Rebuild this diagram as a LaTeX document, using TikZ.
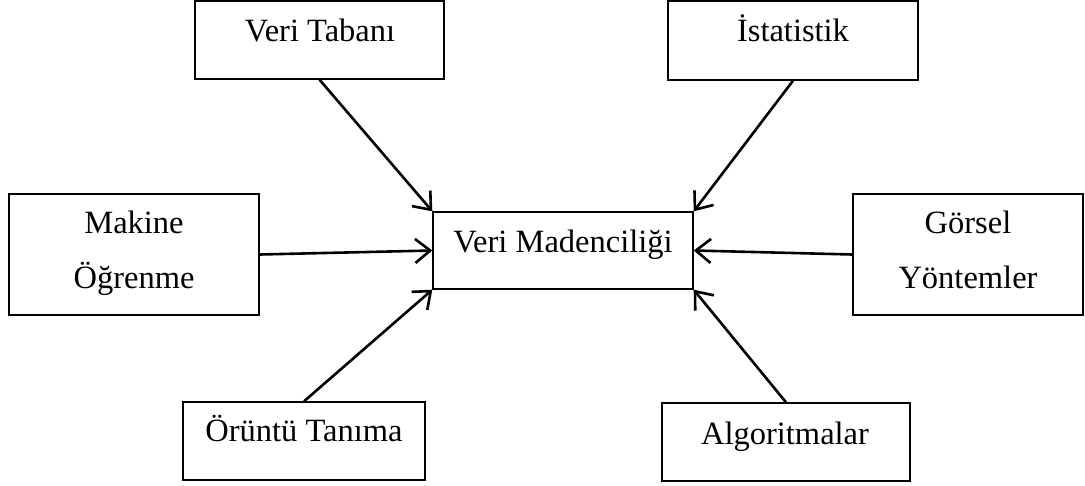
\documentclass[tikz,border=0pt]{standalone}
\usepackage{fontspec}
\setmainfont{Liberation Serif}
\usetikzlibrary{arrows.meta}

\begin{document}
\begin{tikzpicture}[x=1pt,y=-1pt,
  box/.style={draw=black, line width=1.4pt, rectangle, inner sep=0pt},
  lbl/.style={anchor=base, inner sep=0pt, font=\fontsize{32.5}{38}\selectfont},
  conn/.style={line width=2.6pt, -{Straight Barb[length=15pt,width=24pt,line width=2.6pt]}}]
  \useasboundingbox (0,0) rectangle (1085,485);

  % boxes
  \node[box, minimum width=249pt, minimum height=78pt]  (vt)  at (319.5,40)   {};
  \node[box, minimum width=250pt, minimum height=79pt]  (ist) at (793,40.5)   {};
  \node[box, minimum width=250pt, minimum height=121pt] (mak) at (134,254.5)  {};
  \node[box, minimum width=230pt, minimum height=121pt] (gor) at (968,254.5)  {};
  \node[box, minimum width=260pt, minimum height=77pt]  (mad) at (563,250.5)  {};
  \node[box, minimum width=242pt, minimum height=78pt]  (oru) at (304,441)    {};
  \node[box, minimum width=248pt, minimum height=78pt]  (alg) at (786,442)    {};

  % labels
  \node[lbl] (tvt)  at (320,41)  {Veri Tabanı};
  \node[lbl] (tist) at (793,41)  {İstatistik};
  \node[lbl] (tmk1) at (134,233) {Makine};
  \node[lbl] (tmk2) at (134,288) {Öğrenme};
  \node[lbl] (tgo1) at (968,233) {Görsel};
  \node[lbl] (tgo2) at (968,288) {Yöntemler};
  \node[lbl] (tmad) at (563,252) {Veri Madenciliği};
  \node[lbl] (toru) at (304,441) {Örüntü Tanıma};
  \node[lbl] (talg) at (785,444) {Algoritmalar};

  % connectors
  \draw[conn] (vt.south)  -- (mad.north west);
  \draw[conn] (ist.south) -- (mad.north east);
  \draw[conn] (mak.east)  -- (mad.west);
  \draw[conn] (gor.west)  -- (mad.east);
  \draw[conn] (oru.north) -- (mad.south west);
  \draw[conn] (alg.north) -- (mad.south east);
\end{tikzpicture}
\end{document}
